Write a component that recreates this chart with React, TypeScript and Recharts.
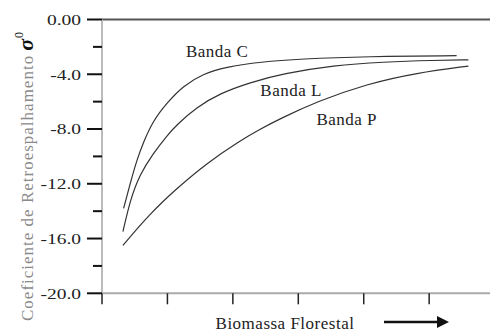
import { LineChart, Line, XAxis, YAxis, ReferenceLine, ReferenceDot } from 'recharts'

// curves (x in tick units, y in dB)
const bandCX = [0.33, 0.43, 0.53, 0.63, 0.78, 0.99, 1.24, 1.55, 1.91, 2.42, 3.03, 4.05, 5.42]
const bandCY = [-13.8, -12.0, -10.3, -9.0, -7.4, -6.1, -4.85, -3.95, -3.45, -3.1, -2.88, -2.7, -2.64]
const bandLX = [0.32, 0.43, 0.58, 0.78, 0.99, 1.14, 1.45, 1.8, 2.26, 2.77, 3.54, 4.3, 5.07, 5.6]
const bandLY = [-15.5, -13.2, -11.3, -9.8, -8.5, -7.7, -6.4, -5.4, -4.6, -3.95, -3.35, -3.1, -2.98, -2.95]
const bandPX = [0.32, 0.73, 1.14, 1.6, 2.11, 2.42, 2.72, 3.28, 4.05, 4.81, 5.6]
const bandPY = [-16.5, -14.2, -12.35, -10.5, -8.85, -8.0, -7.25, -6.0, -4.7, -3.9, -3.4]

const xTicks = [0, 1, 2, 3, 4, 5]
const yTicks = [0, -2, -4, -6, -8, -10, -12, -14, -16, -18, -20]
const yMajor: Record<number, string> = {
  0: '0.00',
  [-4]: '-4.0',
  [-8]: '-8.0',
  [-12]: '-12.0',
  [-16]: '-16.0',
  [-20]: '-20.0',
}

const seriesLabels = [
  { name: 'Banda C', x: 1.76, y: -2.3 },
  { name: 'Banda L', x: 2.89, y: -5.15 },
  { name: 'Banda P', x: 3.74, y: -7.3 },
]

const toPts = (xs: number[], ys: number[]) => xs.map((x, i) => ({ x, y: ys[i] }))

const serif = "'Liberation Serif', 'Times New Roman', Times, serif"

function YTick({ x, y, payload }: any) {
  const v = payload.value
  const major = v in yMajor
  return (
    <g>
      <line x1={x - (major ? 15 : 9)} x2={x} y1={y} y2={y} stroke="#111" strokeWidth={2} />
      {major && (
        <text
          transform={`translate(${x - 21},${y}) scale(1.3,1)`}
          textAnchor="end"
          dy="0.35em"
          style={{ fontFamily: serif }}
          fontSize={15}
          fill="#222"
        >
          {yMajor[v]}
        </text>
      )}
    </g>
  )
}

function YTitle() {
  return (
    <text
      transform="translate(33,176) rotate(-90)"
      textAnchor="middle"
      style={{ fontFamily: serif }}
      fontSize={17}
      letterSpacing={1}
      fill="#8a8a8a"
    >
      Coeficiente de Retroespalhamento
      <tspan fill="#111" fontStyle="italic" fontWeight="bold" fontSize={22} dx={4}>σ</tspan>
      <tspan fill="#111" fontSize={12} dy={-10}>0</tspan>
    </text>
  )
}

function XTitle() {
  return (
    <g>
      <text x={285} y={329} textAnchor="middle" style={{ fontFamily: serif }} fontSize={17} letterSpacing={0.5} fill="#222">
        Biomassa Florestal
      </text>
      <line x1={384} x2={440} y1={322} y2={322} stroke="#111" strokeWidth={2.5} />
      <polygon points="437,316 449,322 437,328" fill="#111" />
    </g>
  )
}

export default function App() {
  return (
    <div style={{ position: 'absolute', left: 0, top: 0, width: 490, height: 334, background: '#fff', fontFamily: serif }}>
      <LineChart width={490} height={334} margin={{ top: 19.5, right: 0, bottom: 0, left: 0 }}>
        <XAxis
          type="number"
          dataKey="x"
          domain={[0, 5.93]}
          ticks={xTicks}
          allowDataOverflow
          height={40.7}
          tickSize={11}
          tickFormatter={() => ''}
          axisLine={{ stroke: '#aaa', strokeWidth: 2 }}
          tickLine={{ stroke: '#222', strokeWidth: 1.5 }}
          label={{ content: () => <XTitle /> }}
        />
        <YAxis
          type="number"
          dataKey="y"
          domain={[-20, 0]}
          ticks={yTicks}
          width={102}
          tickSize={0}
          tickMargin={0}
          tickLine={false}
          axisLine={{ stroke: '#bbb', strokeWidth: 2 }}
          tick={<YTick />}
          label={{ content: () => <YTitle /> }}
        />
        <ReferenceLine y={0} stroke="#555" strokeWidth={2} />
        <Line data={toPts(bandCX, bandCY)} dataKey="y" type="basis" stroke="#333" strokeWidth={1.2} dot={false} isAnimationActive={false} />
        <Line data={toPts(bandLX, bandLY)} dataKey="y" type="basis" stroke="#333" strokeWidth={1.2} dot={false} isAnimationActive={false} />
        <Line data={toPts(bandPX, bandPY)} dataKey="y" type="basis" stroke="#333" strokeWidth={1.2} dot={false} isAnimationActive={false} />
        {seriesLabels.map((s) => (
          <ReferenceDot
            key={s.name}
            x={s.x}
            y={s.y}
            r={1}
            fill="none"
            stroke="none"
            label={{ value: s.name, position: 'center', style: { fontFamily: serif }, fontSize: 17, fill: '#222', letterSpacing: 0.5 }}
          />
        ))}
      </LineChart>
    </div>
  )
}
